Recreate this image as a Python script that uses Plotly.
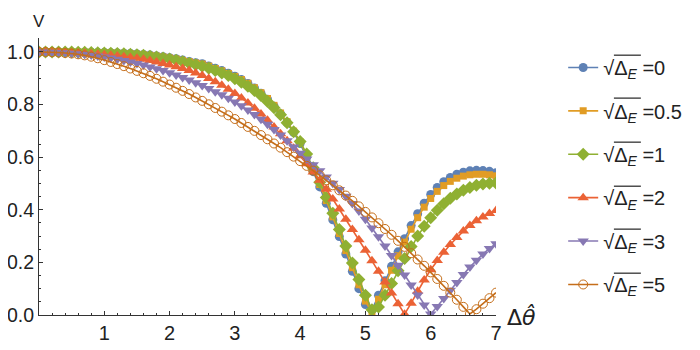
import plotly.graph_objects as go

# sample points along the horizontal axis (step 0.1)
dtheta = [round(0.1 * i, 1) for i in range(71)]

v_0 = [1.000, 1.000, 1.000, 1.000, 1.000, 1.000, 0.999, 0.999, 0.999, 0.998, 0.998,
       0.997, 0.996, 0.995, 0.994, 0.992, 0.990, 0.988, 0.985, 0.982, 0.978,
       0.974, 0.969, 0.964, 0.959, 0.955, 0.947, 0.938, 0.929, 0.919, 0.908,
       0.895, 0.880, 0.863, 0.843, 0.820, 0.794, 0.764, 0.731, 0.694, 0.652,
       0.600, 0.545, 0.487, 0.425, 0.362, 0.298, 0.232, 0.166, 0.100, 0.040,
       0.020, 0.075, 0.130, 0.185, 0.240, 0.290, 0.340, 0.385, 0.425, 0.458,
       0.485, 0.507, 0.523, 0.535, 0.543, 0.548, 0.550, 0.549, 0.546, 0.541]

v_05 = [1.000, 1.000, 1.000, 1.000, 1.000, 1.000, 0.999, 0.999, 0.998, 0.998, 0.997,
        0.996, 0.995, 0.994, 0.993, 0.991, 0.989, 0.987, 0.984, 0.981, 0.977,
        0.973, 0.968, 0.963, 0.958, 0.954, 0.946, 0.937, 0.928, 0.918, 0.907,
        0.895, 0.881, 0.864, 0.845, 0.823, 0.797, 0.768, 0.735, 0.699, 0.658,
        0.607, 0.553, 0.496, 0.435, 0.373, 0.310, 0.245, 0.180, 0.115, 0.053,
        0.008, 0.060, 0.115, 0.170, 0.225, 0.277, 0.326, 0.370, 0.410, 0.443,
        0.470, 0.492, 0.508, 0.520, 0.528, 0.533, 0.535, 0.535, 0.533, 0.529]

v_1 = [1.000, 1.000, 1.000, 1.000, 1.000, 1.000, 0.999, 0.999, 0.998, 0.997, 0.996,
       0.995, 0.994, 0.993, 0.991, 0.989, 0.987, 0.984, 0.981, 0.977, 0.973,
       0.968, 0.963, 0.957, 0.951, 0.946, 0.938, 0.929, 0.920, 0.910, 0.898,
       0.885, 0.870, 0.853, 0.834, 0.812, 0.788, 0.761, 0.731, 0.697, 0.660,
       0.612, 0.560, 0.505, 0.447, 0.387, 0.325, 0.262, 0.198, 0.135, 0.075,
       0.020, 0.030, 0.075, 0.120, 0.168, 0.215, 0.260, 0.300, 0.337, 0.370,
       0.398, 0.423, 0.444, 0.460, 0.474, 0.485, 0.493, 0.498, 0.501, 0.502]

v_2 = [1.000, 1.000, 0.999, 0.999, 0.998, 0.997, 0.996, 0.995, 0.993, 0.991, 0.989,
       0.987, 0.985, 0.982, 0.979, 0.976, 0.972, 0.967, 0.962, 0.956, 0.950,
       0.944, 0.937, 0.929, 0.920, 0.910, 0.899, 0.887, 0.873, 0.858, 0.842,
       0.825, 0.806, 0.786, 0.764, 0.740, 0.715, 0.689, 0.662, 0.634, 0.605,
       0.575, 0.544, 0.512, 0.478, 0.441, 0.403, 0.364, 0.325, 0.286, 0.246,
       0.206, 0.166, 0.125, 0.084, 0.043, 0.003, 0.045, 0.090, 0.133, 0.172,
       0.207, 0.239, 0.268, 0.295, 0.319, 0.340, 0.358, 0.373, 0.386, 0.397]

v_3 = [1.000, 1.000, 0.999, 0.998, 0.997, 0.995, 0.993, 0.991, 0.988, 0.985, 0.981,
       0.977, 0.972, 0.967, 0.962, 0.956, 0.950, 0.943, 0.936, 0.929, 0.921,
       0.912, 0.903, 0.893, 0.883, 0.872, 0.861, 0.849, 0.837, 0.824, 0.810,
       0.795, 0.779, 0.762, 0.744, 0.725, 0.705, 0.684, 0.662, 0.639, 0.615,
       0.593, 0.571, 0.548, 0.525, 0.501, 0.477, 0.451, 0.424, 0.395, 0.364,
       0.331, 0.297, 0.262, 0.226, 0.189, 0.152, 0.114, 0.076, 0.038, 0.004,
       0.032, 0.063, 0.094, 0.124, 0.154, 0.182, 0.208, 0.232, 0.253, 0.271]

v_5 = [1.000, 1.000, 0.999, 0.998, 0.996, 0.994, 0.991, 0.987, 0.982, 0.976, 0.969,
       0.962, 0.954, 0.946, 0.937, 0.928, 0.919, 0.909, 0.898, 0.887, 0.876,
       0.864, 0.852, 0.840, 0.827, 0.814, 0.801, 0.787, 0.773, 0.759, 0.745,
       0.730, 0.715, 0.700, 0.684, 0.668, 0.652, 0.636, 0.619, 0.602, 0.585,
       0.567, 0.549, 0.531, 0.512, 0.493, 0.474, 0.454, 0.434, 0.413, 0.392,
       0.371, 0.349, 0.327, 0.305, 0.282, 0.259, 0.235, 0.211, 0.187, 0.162,
       0.137, 0.111, 0.085, 0.058, 0.031, 0.004, 0.022, 0.043, 0.064, 0.085]

labels = ['0', '0.5', '1', '2', '3', '5']
series = [v_0, v_05, v_1, v_2, v_3, v_5]
colors = ['#5E81B5', '#E19C24', '#8FB032', '#EB6235', '#8778B3', '#C56E1A']
symbols = ['circle', 'square', 'diamond', 'triangle-up', 'triangle-down', 'circle-open']
sizes = [9, 7, 10, 10, 10, 9]

fig = go.Figure()
for i, (lab, vals) in enumerate(zip(labels, series)):
    name = "\u221a\u0394<sub><i>E</i></sub> =" + lab
    fig.add_trace(go.Scatter(
        x=dtheta, y=vals, mode='lines+markers', name=name,
        legendgroup=str(i),
        line=dict(color=colors[i], width=1.6),
        marker=dict(symbol=symbols[i], size=sizes[i], color=colors[i],
                    line=dict(width=1 if symbols[i] == 'circle-open' else 0,
                              color=colors[i])),
    ))

# bar of the square-root sign above each legend label (paper coords)
bar_y = [0.938, 0.783, 0.624, 0.465, 0.310, 0.151]
shapes = [dict(type='line', xref='paper', yref='paper', x0=1.258, x1=1.317,
               y0=yy, y1=yy, line=dict(color='#222', width=1.2)) for yy in bar_y]

axis_font = dict(family='Liberation Sans, Arial', size=20, color='#222')
tick_style = dict(showline=True, linecolor='#333', linewidth=1,
                  ticks='inside', ticklen=4, tickcolor='#333',
                  showgrid=False, zeroline=False, automargin=False)

fig.update_layout(
    width=700, height=350,
    plot_bgcolor='white', paper_bgcolor='white',
    margin=dict(l=31, r=212, t=30, b=43),
    font=axis_font,
    xaxis=dict(range=[0, 7], tickvals=[1, 2, 3, 4, 5, 6, 7],
               minor=dict(dtick=0.2, tick0=0, ticks='inside', ticklen=2, tickcolor='#333'),
               **tick_style),
    yaxis=dict(range=[0, 1.053], tickvals=[0, 0.2, 0.4, 0.6, 0.8, 1.0], tickformat='.1f',
               tickfont=dict(size=19.5),
               minor=dict(dtick=0.05, tick0=0, ticks='inside', ticklen=2, tickcolor='#333'),
               **tick_style),
    legend=dict(x=1.147, y=0.964, xanchor='left', yanchor='top',
                font=dict(family='Liberation Sans, Arial', size=20, color='#222'),
                tracegroupgap=14.4, bgcolor='rgba(0,0,0,0)'),
    shapes=shapes,
    annotations=[
        dict(text='V', xref='paper', yref='paper', x=0.0, y=1.0, xanchor='center',
             yanchor='middle', yshift=17, showarrow=False,
             font=dict(size=17, color='#222')),
        dict(text='\u0394<i>\u03b8\u0302</i>', xref='paper', yref='paper', x=1.0, y=0.0,
             xanchor='left', yanchor='middle', xshift=9, yshift=-2, showarrow=False,
             font=dict(family='DejaVu Sans', size=22, color='#222')),
    ],
)

fig.write_html("out.html")
